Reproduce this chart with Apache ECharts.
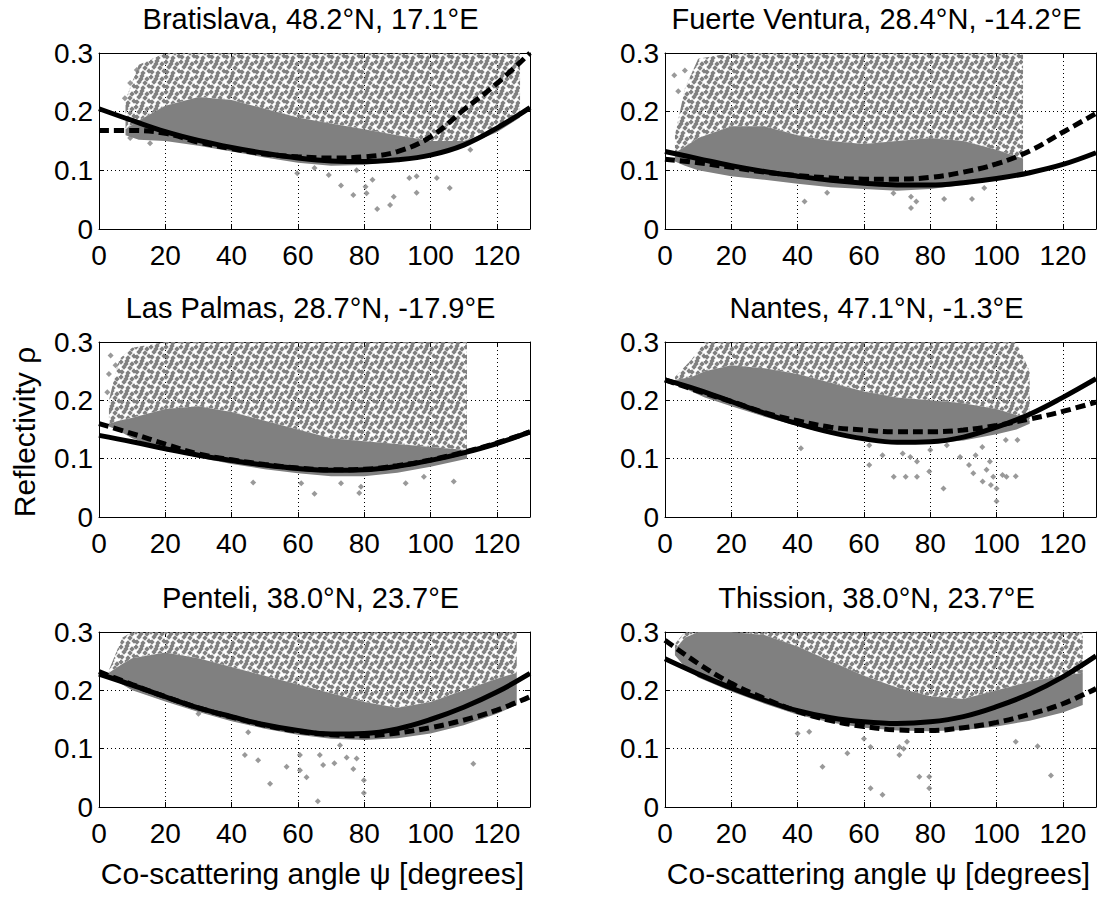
<!DOCTYPE html>
<html>
<head>
<meta charset="utf-8">
<script src="https://cdn.jsdelivr.net/npm/echarts@6/dist/echarts.min.js"></script>
<style>
  html, body { margin: 0; background: #fff; }
  #chart { width: 1097px; height: 897px; }
</style>
</head>
<body>
<div id="chart"></div>
<script>
const FONT = '"Liberation Sans", Arial, Helvetica, sans-serif';

// 横轴采样角度（拟合曲线读数用）
const angles = [0, 10, 20, 30, 40, 50, 60, 70, 80, 90, 100, 110, 120, 130];
const yTickLabels = ['0', '0.1', '0.2', '0.3'];
const xName = 'Co-scattering angle ψ [degrees]';
const yName = 'Reflectivity ρ';
const titles = [
  'Bratislava, 48.2°N, 17.1°E',
  'Fuerte Ventura, 28.4°N, -14.2°E',
  'Las Palmas, 28.7°N, -17.9°E',
  'Nantes, 47.1°N, -1.3°E',
  'Penteli, 38.0°N, 23.7°E',
  'Thission, 38.0°N, 23.7°E',
];

// Bratislava
const braSolid  = [0.205, 0.185, 0.166, 0.151, 0.139, 0.129, 0.121, 0.116, 0.115, 0.118, 0.126, 0.143, 0.172, 0.207];
const braDashed = [0.168, 0.168, 0.163, 0.148, 0.137, 0.128, 0.123, 0.121, 0.123, 0.132, 0.157, 0.203, 0.248, 0.300];
const braCloudX   = [8, 12, 20, 30, 40, 50, 60, 70, 80, 90, 100, 110, 120, 127];
const braCloudLo  = [0.16, 0.152, 0.15, 0.142, 0.132, 0.122, 0.113, 0.108, 0.109, 0.116, 0.126, 0.141, 0.165, 0.19];
const braCloudMid = [0.17, 0.185, 0.21, 0.225, 0.22, 0.205, 0.19, 0.18, 0.17, 0.16, 0.15, 0.15, 0.17, 0.19];
const braCloudHi  = [0.22, 0.28, 0.3, 0.3, 0.3, 0.3, 0.3, 0.3, 0.3, 0.3, 0.3, 0.3, 0.3, 0.3];
const braPoints = [[59.8, 0.095], [65, 0.104], [69.3, 0.092], [73, 0.074], [76.7, 0.058], [77.7, 0.1],
  [80.4, 0.072], [80.7, 0.061], [82.5, 0.084], [83.9, 0.034], [87.8, 0.041], [88.9, 0.055],
  [93.6, 0.087], [95.8, 0.09], [95.8, 0.062], [101.9, 0.087], [105.8, 0.07],
  [7.8, 0.223], [9.4, 0.249], [11.4, 0.271], [15.4, 0.146], [9.4, 0.155], [112, 0.135]];

// Fuerte Ventura
const fvSolid  = [0.132, 0.12, 0.108, 0.098, 0.09, 0.083, 0.078, 0.075, 0.075, 0.079, 0.086, 0.096, 0.11, 0.13];
const fvDashed = [0.119, 0.113, 0.105, 0.097, 0.091, 0.087, 0.085, 0.085, 0.088, 0.097, 0.111, 0.133, 0.165, 0.197];
const fvCloudX   = [3, 6, 10, 20, 30, 40, 50, 60, 70, 80, 90, 100, 108];
const fvCloudLo  = [0.115, 0.108, 0.1, 0.09, 0.084, 0.077, 0.071, 0.068, 0.065, 0.068, 0.075, 0.085, 0.095];
const fvCloudMid = [0.13, 0.14, 0.155, 0.175, 0.175, 0.16, 0.15, 0.145, 0.15, 0.155, 0.15, 0.135, 0.12];
const fvCloudHi  = [0.16, 0.24, 0.29, 0.3, 0.3, 0.3, 0.3, 0.3, 0.3, 0.3, 0.3, 0.3, 0.3];
const fvPoints = [[42.1, 0.047], [48.9, 0.062], [68.9, 0.061], [74.2, 0.055], [75.8, 0.047], [74.2, 0.036],
  [84.2, 0.051], [92.6, 0.051], [96.3, 0.07], [2.8, 0.262], [4, 0.235], [6, 0.27]];

// Las Palmas
const lpSolid  = [0.14, 0.129, 0.117, 0.106, 0.097, 0.089, 0.083, 0.08, 0.081, 0.087, 0.097, 0.11, 0.126, 0.146];
const lpDashed = [0.16, 0.143, 0.125, 0.108, 0.098, 0.09, 0.084, 0.081, 0.082, 0.088, 0.098, 0.111, 0.127, 0.146];
const lpCloudX   = [3, 6, 10, 20, 30, 40, 50, 60, 70, 80, 90, 100, 111];
const lpCloudLo  = [0.155, 0.148, 0.135, 0.115, 0.102, 0.091, 0.082, 0.075, 0.07, 0.07, 0.076, 0.086, 0.1];
const lpCloudMid = [0.16, 0.165, 0.17, 0.185, 0.19, 0.18, 0.165, 0.15, 0.135, 0.13, 0.125, 0.12, 0.115];
const lpCloudHi  = [0.2, 0.27, 0.29, 0.3, 0.3, 0.3, 0.3, 0.3, 0.3, 0.3, 0.3, 0.3, 0.3];
const lpPoints = [[46.5, 0.059], [61, 0.058], [65, 0.04], [73, 0.058], [78.5, 0.041], [79, 0.052],
  [92.5, 0.058], [98, 0.069], [107, 0.061], [3.5, 0.277], [3, 0.245], [2.5, 0.214], [5, 0.26]];

// Nantes
const ntSolid  = [0.235, 0.218, 0.198, 0.178, 0.16, 0.145, 0.134, 0.128, 0.129, 0.137, 0.154, 0.176, 0.205, 0.237];
const ntDashed = [0.235, 0.216, 0.198, 0.179, 0.165, 0.154, 0.149, 0.146, 0.146, 0.149, 0.157, 0.168, 0.181, 0.197];
const ntCloudX   = [3, 8, 12, 20, 30, 40, 50, 60, 70, 80, 90, 100, 106, 110];
const ntCloudLo  = [0.228, 0.215, 0.205, 0.19, 0.172, 0.156, 0.142, 0.132, 0.126, 0.126, 0.131, 0.142, 0.15, 0.16];
const ntCloudMid = [0.235, 0.24, 0.25, 0.26, 0.255, 0.245, 0.23, 0.215, 0.205, 0.2, 0.195, 0.185, 0.175, 0.165];
const ntCloudHi  = [0.24, 0.27, 0.3, 0.3, 0.3, 0.3, 0.3, 0.3, 0.3, 0.3, 0.3, 0.3, 0.3, 0.25];
const ntPoints = [[41, 0.118], [61.6, 0.089], [61.6, 0.123], [65.6, 0.106], [69, 0.069], [72.6, 0.069],
  [71.7, 0.109], [74, 0.103], [76, 0.095], [76, 0.069], [79.7, 0.078], [80, 0.115], [84, 0.049],
  [85, 0.123], [89, 0.103], [91.7, 0.089], [93.7, 0.106], [95.7, 0.12], [97, 0.081], [99, 0.069],
  [100, 0.049], [100, 0.027], [101.8, 0.072], [103, 0.069], [105.8, 0.07], [102.8, 0.132],
  [106.3, 0.132], [93, 0.075], [98, 0.095], [95.8, 0.061], [98.3, 0.055]];

// Penteli
const ptSolid  = [0.228, 0.209, 0.189, 0.17, 0.155, 0.141, 0.131, 0.125, 0.126, 0.134, 0.15, 0.171, 0.197, 0.229];
const ptDashed = [0.232, 0.21, 0.189, 0.17, 0.154, 0.14, 0.13, 0.124, 0.122, 0.127, 0.136, 0.149, 0.166, 0.189];
const ptCloudX   = [3, 7, 10, 20, 30, 40, 50, 60, 70, 80, 90, 100, 110, 120, 126];
const ptCloudLo  = [0.222, 0.21, 0.2, 0.181, 0.163, 0.147, 0.134, 0.124, 0.117, 0.115, 0.118, 0.126, 0.14, 0.16, 0.175];
const ptCloudMid = [0.23, 0.245, 0.255, 0.265, 0.255, 0.24, 0.225, 0.21, 0.195, 0.18, 0.17, 0.18, 0.2, 0.22, 0.23];
const ptCloudHi  = [0.235, 0.29, 0.3, 0.3, 0.3, 0.3, 0.3, 0.3, 0.3, 0.3, 0.3, 0.3, 0.3, 0.3, 0.3];
const ptPoints = [[44, 0.089], [48, 0.08], [51.6, 0.04], [56.6, 0.069], [60.6, 0.063], [62.6, 0.051],
  [66, 0.01], [66.6, 0.089], [67.6, 0.072], [71, 0.075], [74.7, 0.085], [76.7, 0.065], [77.7, 0.083],
  [79.9, 0.046], [79.9, 0.024], [112.9, 0.074], [60.6, 0.089], [72.7, 0.106], [45, 0.128], [30, 0.16]];

// Thission
const thSolid  = [0.254, 0.228, 0.204, 0.183, 0.165, 0.153, 0.146, 0.143, 0.146, 0.155, 0.172, 0.194, 0.223, 0.259];
const thDashed = [0.286, 0.246, 0.212, 0.186, 0.164, 0.148, 0.138, 0.132, 0.131, 0.136, 0.145, 0.159, 0.177, 0.203];
const thCloudX   = [3, 6, 10, 20, 30, 40, 50, 60, 70, 80, 90, 100, 110, 120, 126];
const thCloudLo  = [0.26, 0.24, 0.222, 0.198, 0.177, 0.158, 0.145, 0.136, 0.131, 0.13, 0.132, 0.138, 0.148, 0.162, 0.175];
const thCloudMid = [0.27, 0.29, 0.3, 0.3, 0.295, 0.275, 0.25, 0.225, 0.205, 0.19, 0.185, 0.2, 0.215, 0.225, 0.23];
const thCloudHi  = [0.28, 0.3, 0.3, 0.3, 0.3, 0.3, 0.3, 0.3, 0.3, 0.3, 0.3, 0.3, 0.3, 0.3, 0.3];
const thPoints = [[40, 0.126], [43.5, 0.129], [47.5, 0.069], [55, 0.092], [60, 0.117], [62, 0.103],
  [62, 0.032], [65.6, 0.021], [70.7, 0.103], [70.7, 0.089], [72, 0.1], [73, 0.112], [76.7, 0.052],
  [79.7, 0.052], [79.7, 0.032], [105.8, 0.112], [112.4, 0.104], [116.4, 0.054]];

const panels = [
  { solid: braSolid, dashed: braDashed, cx: braCloudX, lo: braCloudLo, mid: braCloudMid, hi: braCloudHi, pts: braPoints },
  { solid: fvSolid,  dashed: fvDashed,  cx: fvCloudX,  lo: fvCloudLo,  mid: fvCloudMid,  hi: fvCloudHi,  pts: fvPoints },
  { solid: lpSolid,  dashed: lpDashed,  cx: lpCloudX,  lo: lpCloudLo,  mid: lpCloudMid,  hi: lpCloudHi,  pts: lpPoints },
  { solid: ntSolid,  dashed: ntDashed,  cx: ntCloudX,  lo: ntCloudLo,  mid: ntCloudMid,  hi: ntCloudHi,  pts: ntPoints },
  { solid: ptSolid,  dashed: ptDashed,  cx: ptCloudX,  lo: ptCloudLo,  mid: ptCloudMid,  hi: ptCloudHi,  pts: ptPoints },
  { solid: thSolid,  dashed: thDashed,  cx: thCloudX,  lo: thCloudLo,  mid: thCloudMid,  hi: thCloudHi,  pts: thPoints },
];

// 稀疏散点区域的纹理（灰色菱形点）
function speckleTile() {
  const size = 15;
  const c = document.createElement('canvas');
  c.width = size; c.height = size;
  const g = c.getContext('2d');
  g.fillStyle = '#808080';
  const spots = [[1, 2], [7, 1], [12, 4], [4, 7], [10, 8], [14, 11], [2, 12], [8, 13], [6, 4]];
  spots.forEach(([sx, sy]) => {
    for (const dx of [-size, 0, size]) {
      for (const dy of [-size, 0, size]) {
        const x = sx + dx, y = sy + dy, r = 2.7;
        g.beginPath();
        g.moveTo(x, y - r); g.lineTo(x + r, y); g.lineTo(x, y + r); g.lineTo(x - r, y);
        g.closePath(); g.fill();
      }
    }
  });
  return c;
}
const tile = speckleTile();

const gridLeft = [99, 665];
const gridTop = [53, 342, 632];
const gridW = 431;
const pair = (xs, ys) => xs.map((x, k) => [x, ys[k]]);

// 两条边界之间的多边形（经坐标轴换算）
function bandItem(xs, upper, lower, fill) {
  return (params, api) => {
    const top = xs.map((x, k) => api.coord([x, upper[k]]));
    const bottom = xs.map((x, k) => api.coord([x, lower[k]])).reverse();
    return { type: 'polygon', shape: { points: top.concat(bottom) }, style: { fill: fill } };
  };
}

const grid = [], xAxis = [], yAxis = [], series = [], graphic = [];

panels.forEach((p, i) => {
  const col = i % 2, row = Math.floor(i / 2);
  grid.push({ left: gridLeft[col], top: gridTop[row], width: gridW, height: row === 0 ? 176 : 175, outerBoundsMode: 'none' });

  const line = { show: true, onZero: false, lineStyle: { color: '#000', width: 1 } };
  const tick = { show: true, inside: true, length: 5, lineStyle: { color: '#000', width: 1 } };
  const dotted = { show: true, lineStyle: { color: '#000', width: 1, type: [1, 3] } };

  xAxis.push({
    gridIndex: i, type: 'value', min: 0, max: 130, interval: 20,
    axisLine: line, axisTick: tick, splitLine: dotted,
    axisLabel: { show: true, showMaxLabel: false, color: '#000', fontSize: 28, fontFamily: FONT, margin: 12 },
  });
  xAxis.push({
    gridIndex: i, type: 'value', min: 0, max: 130, interval: 20, position: 'top',
    axisLine: line, axisTick: tick, splitLine: { show: false }, axisLabel: { show: false },
  });
  yAxis.push({
    gridIndex: i, type: 'value', min: 0, max: 0.3, interval: 0.1,
    axisLine: line, axisTick: tick, splitLine: dotted,
    axisLabel: { color: '#000', fontSize: 28, fontFamily: FONT, margin: 6,
      formatter: v => yTickLabels[Math.round(v * 10)] },
  });
  yAxis.push({
    gridIndex: i, type: 'value', min: 0, max: 0.3, interval: 0.1, position: 'right',
    axisLine: line, axisTick: tick, splitLine: { show: false }, axisLabel: { show: false },
  });

  const base = { xAxisIndex: 2 * i, yAxisIndex: 2 * i, silent: true, animation: false };

  // 散点云：稀疏区（纹理）+ 密集核心（实灰）
  series.push({ ...base, type: 'custom', clip: true, data: [[p.cx[0], p.lo[0]]], z: 1,
    renderItem: bandItem(p.cx, p.hi, p.mid, { image: tile, repeat: 'repeat' }) });
  series.push({ ...base, type: 'custom', clip: true, data: [[p.cx[0], p.lo[0]]], z: 1,
    renderItem: bandItem(p.cx, p.mid, p.lo, '#808080') });

  series.push({ ...base, type: 'scatter', data: p.pts, symbol: 'diamond', symbolSize: 6,
    itemStyle: { color: '#808080' }, z: 2 });

  series.push({ ...base, type: 'line', data: pair(angles, p.solid), symbol: 'none', smooth: 0.4,
    lineStyle: { color: '#000', width: 5 }, z: 4 });
  series.push({ ...base, type: 'line', data: pair(angles, p.dashed), symbol: 'none', smooth: 0.4,
    lineStyle: { color: '#000', width: 5, type: [10, 5] }, z: 5 });

  graphic.push({ type: 'text', x: gridLeft[col] + gridW / 2 - 4, y: gridTop[row] - 34,
    style: { text: titles[i], font: '29px ' + FONT, fill: '#000', textAlign: 'center', textVerticalAlign: 'middle' } });
});

// 坐标轴名称
graphic.push({ type: 'text', x: 24, y: 432, rotation: Math.PI / 2,
  style: { text: yName, font: '30px ' + FONT, fill: '#000', textAlign: 'center', textVerticalAlign: 'middle' } });
gridLeft.forEach(left => {
  graphic.push({ type: 'text', x: left + gridW / 2 - 2, y: 873,
    style: { text: xName, font: '30px ' + FONT, fill: '#000', textAlign: 'center', textVerticalAlign: 'middle' } });
});

const chart = echarts.init(document.getElementById('chart'), null, { renderer: 'svg' });
chart.setOption({
  backgroundColor: '#fff',
  animation: false,
  grid, xAxis, yAxis, series, graphic,
});
</script>
</body>
</html>
